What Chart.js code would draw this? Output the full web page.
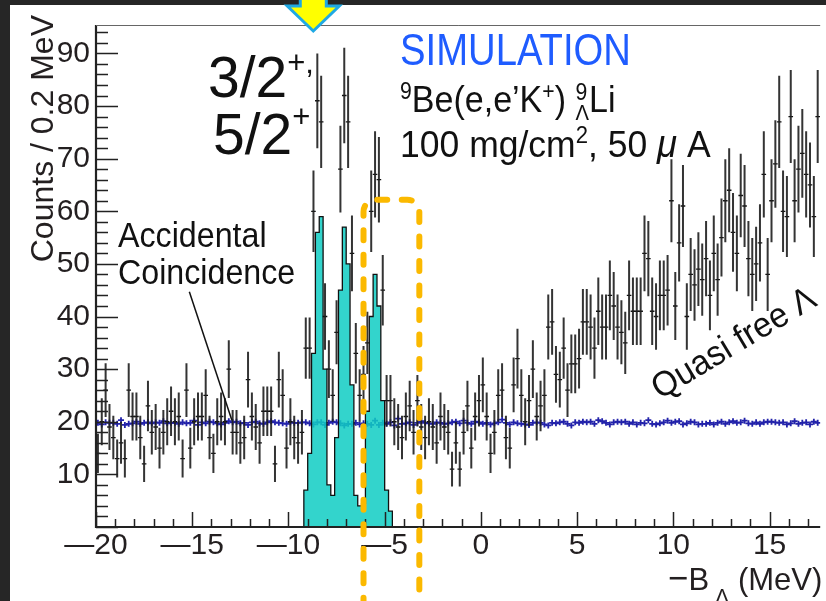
<!DOCTYPE html>
<html>
<head>
<meta charset="utf-8">
<script src="https://cdn.jsdelivr.net/npm/chart.js@4.4.1/dist/chart.umd.min.js"></script>
<style>
  html, body { margin: 0; padding: 0; background: #fff; }
  #wrap { width: 826px; height: 601px; position: relative; }
</style>
</head>
<body>
<div id="wrap"><canvas id="spectrum"></canvas></div>
<script>
const FONT = '"Liberation Sans", Arial, sans-serif';

// 0.2 MeV bins, first bin centred at -19.9 MeV
const binWidth = 0.2;
const firstBin = -19.9;

// counts per bin (black points with errors)
const counts = [
  14, 20, 26, 19, 17, 13, 16, 13, 26, 21, 21, 17, 12, 23, 18, 19, 15, 18, 20, 22,
  20, 21, 13, 26, 15, 20, 21, 21, 25, 17, 14, 20, 21, 20, 30, 18, 18, 16, 17, 28,
  21, 19, 16, 22, 22, 22, 12, 28, 25, 15, 20, 17, 16, 18, 34, 34, 60, 81, 77, 40,
  30, 25, 37, 68, 82, 77, 52, 33, 25, 29, 35, 60, 67, 66, 45, 24, 24, 20, 19, 17,
  21, 23, 18, 24, 19, 17, 20, 19, 16, 21, 19, 18, 11, 16, 11, 18, 23, 15, 21, 24,
  27, 21, 14, 18, 25, 26, 17, 15, 27, 32, 25, 20, 24, 30, 21, 23, 25, 38, 39, 29,
  28, 34, 26, 31, 31, 32, 39, 39, 38, 34, 41, 38, 38, 44, 42, 38, 37, 35, 44, 41,
  41, 41, 52, 51, 41, 40, 44, 44, 45, 62, 42, 54, 61, 40, 48, 46, 49, 47, 51, 44,
  52, 47, 55, 62, 64, 56, 52, 63, 61, 51, 48, 50, 54, 67, 48, 62, 69, 77, 60, 59,
  78, 62, 68, 71, 67, 65, 59, 78
];

// accidental coincidence estimate (blue crosses)
const accidental = [
  19.8, 19.5, 19.9, 19.8, 19.8, 19.6, 20.3, 19.4, 19.6, 19.7,
  20.0, 19.6, 19.8, 19.9, 19.7, 19.9, 19.8, 20.1, 19.7, 19.8,
  19.8, 19.6, 19.9, 19.7, 19.8, 20.2, 19.4, 19.9, 19.7, 20.0,
  19.9, 19.7, 19.5, 19.8, 20.1, 19.9, 20.0, 19.7, 19.8, 19.4,
  19.9, 20.0, 19.7, 19.6, 19.9, 20.1, 19.9, 19.8, 19.7, 19.6,
  19.9, 19.8, 19.8, 19.9, 19.9, 19.7, 19.5, 19.9, 19.9, 19.4,
  19.8, 20.0, 19.9, 19.7, 19.3, 19.6, 19.6, 19.8, 19.5, 19.7,
  19.6, 19.4, 20.2, 19.4, 19.8, 19.6, 19.9, 19.3, 20.6, 19.6,
  19.7, 19.9, 19.4, 19.8, 20.1, 19.8, 19.7, 19.6, 19.9, 19.8,
  19.6, 19.7, 19.9, 20.0, 19.7, 20.2, 19.8, 19.6, 20.0, 19.9,
  19.6, 19.8, 19.5, 19.7, 19.9, 20.4, 19.8, 19.5, 19.9, 19.7,
  19.6, 19.5, 19.4, 19.8, 19.9, 19.8, 19.5, 19.3, 19.8, 19.7,
  19.9, 20.0, 19.6, 19.3, 19.9, 19.8, 20.0, 19.9, 20.0, 19.6,
  20.3, 20.1, 19.8, 19.5, 19.9, 20.0, 19.9, 20.0, 19.6, 19.9,
  19.5, 19.8, 19.7, 20.3, 19.6, 19.5, 19.7, 19.9, 20.2, 19.8,
  20.0, 20.1, 19.5, 19.7, 20.0, 19.9, 19.5, 19.6, 19.6, 19.8,
  19.5, 19.8, 20.0, 19.6, 19.9, 20.1, 19.8, 19.9, 20.2, 19.7,
  19.6, 19.9, 19.6, 19.9, 20.0, 20.0, 19.9, 19.8, 19.9, 19.5,
  19.7, 20.1, 19.6, 19.8, 19.9, 19.5, 20.0, 19.8
];

// simulated hypernuclear peaks (cyan histogram), bins from -9.4 MeV
const simFirstEdge = -9.4;
const simCounts = [0, 7, 14, 33, 56, 59, 30, 8, 6, 17, 45, 57, 50, 27, 6, 4, 4.5, 22, 40, 48, 42, 24, 7, 3, 0];

const xRange = [-20, 17.63];
const yRange = [0, 95.4];

const centre = i => +(firstBin + i * binWidth).toFixed(2);
const isInt = v => Math.abs(v - Math.round(v)) < 1e-6;

const dataPts = counts.map((v, i) => ({ x: centre(i), y: v }));
const accPts = accidental.map((v, i) => ({ x: centre(i), y: v }));
const simPts = simCounts.map((v, i) => ({ x: +(simFirstEdge + i * binWidth).toFixed(2), y: v }));
simPts.push({ x: +(simFirstEdge + simCounts.length * binWidth).toFixed(2), y: 0 });

function drawRich(ctx, x, y, parts, sx, color) {
    ctx.save();
    ctx.translate(x, y);
    ctx.scale(sx, 1);
    ctx.fillStyle = color || '#111';
    ctx.textAlign = 'left';
    ctx.textBaseline = 'alphabetic';
    let cx = 0;
    for (const p of parts) {
        ctx.font = (p.style || '') + ' ' + p.size + 'px ' + FONT;
        ctx.fillText(p.t, cx, p.dy || 0);
        if (!p.stack) cx += ctx.measureText(p.t).width;
    }
    ctx.restore();
}

const decorations = {
    id: 'decorations',
    beforeDraw(chart) {
        const ctx = chart.ctx;
        ctx.save();
        ctx.fillStyle = '#fff';
        ctx.fillRect(0, 0, chart.width, chart.height);
        ctx.restore();
    },
    afterDatasetsDraw(chart) {
        const { ctx, chartArea: a, scales: { x, y } } = chart;

        // error bars
        ctx.save();
        ctx.beginPath();
        ctx.rect(a.left, a.top, a.right - a.left, a.bottom - a.top);
        ctx.clip();
        ctx.strokeStyle = 'rgba(30,30,30,0.9)';
        ctx.lineWidth = 2;
        counts.forEach((v, i) => {
            const e = Math.sqrt(v);
            const px = x.getPixelForValue(centre(i));
            ctx.beginPath();
            ctx.moveTo(px, y.getPixelForValue(v - e));
            ctx.lineTo(px, y.getPixelForValue(v + e));
            ctx.stroke();
        });
        ctx.restore();

        // frame and inward ticks
        ctx.save();
        ctx.strokeStyle = '#222';
        ctx.lineWidth = 1.5;
        ctx.beginPath();
        y.ticks.forEach(t => {
            const py = Math.round(y.getPixelForValue(t.value)) + 0.5;
            const len = isInt(t.value / 10) ? 22 : 12;
            ctx.moveTo(a.left, py);
            ctx.lineTo(a.left + len, py);
        });
        x.ticks.forEach(t => {
            const px = Math.round(x.getPixelForValue(t.value)) + 0.5;
            const len = isInt(t.value / 5) ? 15 : 8;
            ctx.moveTo(px, a.bottom);
            ctx.lineTo(px, a.bottom - len);
        });
        ctx.stroke();
        ctx.lineWidth = 2.2;
        ctx.beginPath();
        ctx.moveTo(a.left, a.top);
        ctx.lineTo(a.left, a.bottom);
        ctx.lineTo(a.right, a.bottom);
        ctx.stroke();
        ctx.strokeStyle = '#666';
        ctx.lineWidth = 1;
        ctx.beginPath();
        ctx.moveTo(a.left, a.top + 0.5);
        ctx.lineTo(a.right, a.top + 0.5);
        ctx.stroke();
        ctx.restore();

        // axis titles
        ctx.save();
        ctx.translate(53, a.top - 10);
        ctx.rotate(-Math.PI / 2);
        ctx.font = '32px ' + FONT;
        ctx.fillStyle = '#231f20';
        ctx.textAlign = 'right';
        ctx.fillText('Counts / 0.2 MeV', 0, 0);
        ctx.restore();
        drawRich(ctx, 668, 590, [
            { t: '\u2212', size: 36 }, { t: 'B', size: 32 }, { t: ' ', size: 22 },
            { t: '\u039B', size: 22, dy: 14 }, { t: ' (MeV)', size: 32 }
        ], 0.97, '#231f20');

        // selection box
        ctx.save();
        ctx.strokeStyle = '#fbb900';
        ctx.lineWidth = 6;
        ctx.lineCap = 'round';
        ctx.setLineDash([10, 14.5]);
        const bl = x.getPixelForValue(-6.1), br = x.getPixelForValue(-3.2);
        const bt = y.getPixelForValue(62.2), bb = y.getPixelForValue(-20), r = 12;
        ctx.beginPath();
        ctx.moveTo(bl, bb);
        ctx.lineTo(bl, bt + r);
        ctx.arcTo(bl, bt, bl + r, bt, r);
        ctx.lineTo(br - r, bt);
        ctx.arcTo(br, bt, br, bt + r, r);
        ctx.lineTo(br, bb);
        ctx.stroke();
        ctx.restore();

        // labels
        drawRich(ctx, 208, 97, [{ t: '3/2', size: 57 }, { t: '+,', size: 31, dy: -24 }], 1, '#111');
        drawRich(ctx, 213, 154, [{ t: '5/2', size: 57 }, { t: '+', size: 31, dy: -27 }], 1, '#111');
        drawRich(ctx, 400, 65, [{ t: 'SIMULATION', size: 45 }], 0.85, '#1f5cff');
        drawRich(ctx, 400, 112, [
            { t: '9', size: 23, dy: -13 }, { t: 'Be(e,e\u2019K', size: 37 }, { t: '+', size: 23, dy: -13 },
            { t: ') ', size: 37 }, { t: '9', size: 23, dy: -12, stack: true }, { t: '\u039B', size: 22, dy: 8 },
            { t: 'Li', size: 37 }
        ], 0.92, '#111');
        drawRich(ctx, 400, 157, [
            { t: '100 mg/cm', size: 37 }, { t: '2', size: 23, dy: -14 }, { t: ', 50 ', size: 37 },
            { t: '\u03BC', size: 38, style: 'italic' }, { t: ' A', size: 37 }
        ], 0.96, '#111');
        drawRich(ctx, 118, 247, [{ t: 'Accidental', size: 35 }], 0.92, '#111');
        drawRich(ctx, 118, 284, [{ t: 'Coincidence', size: 35 }], 0.92, '#111');

        ctx.save();
        ctx.strokeStyle = '#111';
        ctx.lineWidth = 1.5;
        ctx.beginPath();
        ctx.moveTo(x.getPixelForValue(-15.15), y.getPixelForValue(44.7));
        ctx.lineTo(x.getPixelForValue(-12.94), y.getPixelForValue(20.3));
        ctx.stroke();
        ctx.restore();

        ctx.save();
        ctx.translate(660, 400);
        ctx.rotate(-31 * Math.PI / 180);
        drawRich(ctx, 0, 0, [{ t: 'Quasi free \u039B', size: 35 }], 0.95, '#111');
        ctx.restore();

        // screen edges and arrow
        ctx.save();
        ctx.fillStyle = '#262626';
        ctx.fillRect(0, 0, chart.width, 5);
        ctx.fillRect(0, 0, 10, chart.height);
        const ax = x.getPixelForValue(-8.71);
        ctx.beginPath();
        ctx.moveTo(ax - 13, -4);
        ctx.lineTo(ax + 13, -4);
        ctx.lineTo(ax + 13, 6);
        ctx.lineTo(ax + 26, 6);
        ctx.lineTo(ax, 31);
        ctx.lineTo(ax - 26, 6);
        ctx.lineTo(ax - 13, 6);
        ctx.closePath();
        ctx.fillStyle = '#ffff00';
        ctx.fill();
        ctx.strokeStyle = '#1fa9e4';
        ctx.lineWidth = 3;
        ctx.stroke();
        ctx.restore();
    }
};

const ctx = document.getElementById('spectrum');
new Chart(ctx, {
    type: 'scatter',
    data: {
        datasets: [
            {
                label: 'data',
                data: dataPts,
                pointStyle: 'line',
                pointRadius: 2.3,
                borderWidth: 1.3,
                borderColor: '#111',
                order: 1,
            },
            {
                label: 'simulation',
                type: 'line',
                data: simPts,
                stepped: true,
                fill: 'origin',
                backgroundColor: 'rgba(15,205,195,0.85)',
                borderColor: '#111',
                borderWidth: 1.3,
                pointRadius: 0,
                order: 2,
            },
            {
                label: 'accidental',
                data: accPts,
                pointStyle: 'cross',
                pointRadius: 3,
                borderWidth: 1.8,
                borderColor: '#2222aa',
                order: 3,
            },
        ],
    },
    options: {
        responsive: true,
        maintainAspectRatio: false,
        animation: false,
        events: [],
        layout: { padding: { top: 25, left: 0, right: 0, bottom: 0 } },
        plugins: {
            legend: { display: false },
            tooltip: { enabled: false },
        },
        scales: {
            x: {
                type: 'linear',
                min: xRange[0],
                max: xRange[1],
                grid: { display: false, drawTicks: false },
                border: { display: false },
                ticks: {
                    stepSize: 1,
                    includeBounds: false,
                    autoSkip: false,
                    maxRotation: 0,
                    minRotation: 0,
                    padding: 1,
                    color: '#231f20',
                    font: { family: FONT, size: 30 },
                    callback: v => (isInt(v) && Math.round(v) % 5 === 0)
                        ? (v < 0 ? '\u2014' + Math.round(-v) : String(Math.round(v))) : '',
                },
                afterFit: s => { s.height = 74; },
            },
            y: {
                type: 'linear',
                min: yRange[0],
                max: yRange[1],
                grid: { display: false, drawTicks: false },
                border: { display: false },
                ticks: {
                    stepSize: 2,
                    includeBounds: false,
                    autoSkip: false,
                    padding: 6,
                    color: '#231f20',
                    font: { family: FONT, size: 30 },
                    callback: v => (isInt(v) && v > 0 && Math.round(v) % 10 === 0) ? String(Math.round(v)) : '',
                },
                afterFit: s => { s.width = 96; },
            },
        },
    },
    plugins: [decorations],
});
</script>
</body>
</html>
